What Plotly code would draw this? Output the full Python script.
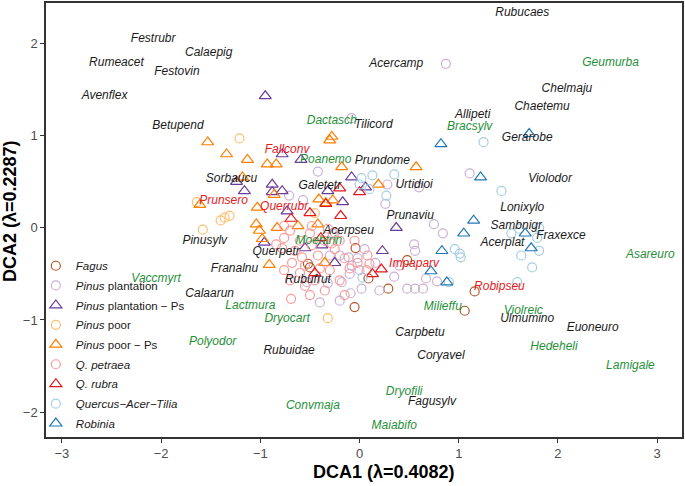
import plotly.graph_objects as go

# ---------------- data (DCA site scores) ----------------
fagus_x = [-0.04, 0.48, 0.09, 0.29, -0.05, 1.06, 1.16, -0.52, -0.50]
fagus_y = [-0.22, -0.35, -0.55, -0.66, -0.86, -0.90, -0.69, -0.39, -0.43]

pplant_x = [0.87, -0.08, -0.42, -0.71, -0.57, 1.11, 0.28, 0.60, 0.26, 0.75, 0.84, 0.55,
            0.56, 0.64, 0.48, 0.67, 0.78, -0.09, 0.02, -0.18, -0.10, -0.40, -0.53, -0.32,
            -0.20, -0.30, -0.11, -0.02, 0.05, 0.56, -0.27, 0.40, 0.35, 0.16, 0.20, 0.00,
            -0.20, -0.08]
pplant_y = [1.78, 1.19, 0.61, 0.35, 0.30, 0.59, 0.47, 0.44, 0.26, 0.04, -0.06, -0.18,
            -0.66, -0.66, -0.66, -0.55, -0.58, -0.71, -0.66, -0.59, -0.50, -0.81, -0.59, -0.60,
            -0.30, -0.30, -0.32, -0.33, -0.23, -0.25, -0.06, -0.41, -0.53, -0.38, -0.68, -0.46,
            -0.79, -0.41]

pplantps_x = [-0.95, -0.78, -0.59, -1.24, -1.16, -0.88, -0.88, -0.78, -0.73, -0.32,
              -0.17, -0.08, 0.06, 0.37, 0.23, -0.25, -0.96, -0.55, -0.38]
pplantps_y = [1.43, 0.80, 0.74, 0.50, 0.40, 0.47, 0.39, 0.40, 0.18, 0.40,
              0.28, 0.55, 0.44, 0.00, -0.25, -0.38, -0.16, -0.22, -0.19]

ppoor_x = [-1.21, -1.64, -1.36, -1.31, -1.40, -1.58, -0.32, -0.45]
ppoor_y = [0.97, 0.28, 0.11, 0.13, 0.08, -0.02, -0.98, 0.16]

ppoorps_x = [-1.53, -1.34, -1.13, -0.93, -0.84, -0.28, -0.30, -0.18, 0.57, 0.19,
             -1.18, -0.86, -1.61, -1.03, -1.04, -1.01, -0.98, -0.91, -0.41, -0.34,
             -0.27, -0.62, -0.83, -0.42, -0.35]
ppoorps_y = [0.93, 0.80, 0.74, 0.69, 0.69, 0.99, 0.95, 0.66, 0.66, 0.47,
             0.55, 0.36, 0.25, 0.22, 0.04, -0.03, -0.12, -0.40, 0.31, 0.27,
             0.30, 0.02, 0.00, 0.04, -0.38]

qpet_x = [-0.84, -0.78, -0.76, -0.68, -0.58, -0.50, -0.70, -0.60, -0.65, -0.48,
          -0.42, -0.35, -0.25, -0.25, -0.15, -0.28, -0.45, -0.55, -0.35, -0.20,
          -0.10, 0.07, 0.08, 0.10, -0.69, -0.76, -0.60, -0.40, -0.20, -0.05,
          -0.70, -0.50, -0.15, -0.02, -0.48, -0.32, -0.76, -0.55, -0.30]
qpet_y = [-0.18, -0.22, -0.11, -0.38, -0.32, -0.06, -0.03, -0.14, -0.25, -0.19,
          -0.30, -0.14, -0.05, -0.23, -0.33, -0.17, -0.57, -0.63, -0.68, -0.57,
          -0.44, -0.46, -0.30, -0.39, -0.77, -0.46, -0.49, -0.44, -0.14, -0.14,
          -0.57, -0.73, -0.73, -0.38, 0.02, -0.01, 0.02, -0.41, -0.46]

qrub_x = [-0.20, 0.00, -0.19, -0.34, -0.50, -0.69, -0.39, -0.45, 0.22, 0.13]
qrub_y = [0.43, 0.39, 0.13, 0.26, 0.16, 0.10, -0.11, -0.49, -0.45, -0.50]

qat_x = [1.25, 1.43, 0.02, 0.00, 0.13, 0.35, 0.10, 0.27, 0.96, 1.01, 1.02,
         0.90, 1.53, 1.63, 1.74, 1.81, 1.79, 1.59, 1.61, 1.81, 0.03]
qat_y = [0.93, 0.40, 0.54, 0.47, 0.57, 0.58, 0.42, 0.35, -0.23, -0.28, -0.32,
         -0.59, -0.06, -0.30, -0.43, -0.25, -0.11, -0.59, -0.01, 0.00, -0.54]

rob_x = [1.71, 0.82, 1.22, 1.15, 1.05, 1.67, 1.73, 0.83, 0.72, 0.88]
rob_y = [1.02, 0.91, 0.55, 0.08, -0.06, -0.06, -0.22, -0.25, -0.47, -0.59]

# species scores
sp_black = ["Rubucaes", "Festrubr", "Calaepig", "Rumeacet", "Festovin", "Avenflex",
            "Acercamp", "Chelmaju", "Chaetemu", "Allipeti", "Betupend", "Tilicord",
            "Gerarobe", "Prundome", "Sorbaucu", "Violodor", "Galetetr", "Urtidioi",
            "Lonixylo", "Prunaviu", "Sambnigr", "Fraxexce", "Pinusylv", "Acerpseu",
            "Acerplat", "Querpetr", "Franalnu", "Rubufrut", "Calaarun", "Ulmumino",
            "Euoneuro", "Carpbetu", "Rubuidae", "Coryavel", "Fagusylv"]
sp_black_x = [1.64, -2.08, -1.52, -2.45, -1.84, -2.57, 0.37, 2.09, 1.84, 1.14, -1.83, 0.14,
              1.69, 0.23, -1.29, 1.92, -0.40, 0.55, 1.64, 0.51, 1.58, 2.03, -1.56, -0.11,
              1.44, -0.84, -1.26, -0.52, -1.51, 1.69, 2.35, 0.61, -0.71, 0.82, 0.73]
sp_black_y = [2.33, 2.05, 1.90, 1.79, 1.69, 1.43, 1.78, 1.51, 1.31, 1.22, 1.11, 1.12,
              0.98, 0.73, 0.53, 0.53, 0.45, 0.46, 0.22, 0.13, 0.02, -0.09, -0.14, -0.03,
              -0.16, -0.26, -0.45, -0.57, -0.72, -0.99, -1.09, -1.14, -1.34, -1.39, -1.89]

sp_green = ["Geumurba", "Dactasch", "Bracsylv", "Poanemo", "Moehtrin", "Vaccmyrt",
            "Lactmura", "Dryocart", "Polyodor", "Asareuro", "Milieffu", "Violreic",
            "Hedeheli", "Lamigale", "Dryofili", "Convmaja", "Maiabifo"]
sp_green_x = [2.53, -0.28, 1.11, -0.34, -0.41, -2.05, -1.10, -0.73, -1.48, 2.93, 0.84, 1.65,
              1.96, 2.73, 0.45, -0.47, 0.35]
sp_green_y = [1.79, 1.16, 1.09, 0.74, -0.14, -0.55, -0.85, -0.99, -1.24, -0.30, -0.86, -0.90,
              -1.29, -1.50, -1.78, -1.93, -2.15]

sp_red = ["Fallconv", "Prunsero", "Querrubr", "Impaparv", "Robipseu"]
sp_red_x = [-0.73, -1.37, -0.76, 0.55, 1.41]
sp_red_y = [0.85, 0.29, 0.23, -0.39, -0.64]

x_ticks = [-3, -2, -1, 0, 1, 2, 3]
y_ticks = [-2, -1, 0, 1, 2]

# ---------------- styling ----------------
FONT = "Liberation Sans, Arial, sans-serif"
groups = [
    ("<i>Fagus</i>", fagus_x, fagus_y, "circle-open", "#b15928"),
    ("<i>Pinus</i> plantation", pplant_x, pplant_y, "circle-open", "#cab2d6"),
    ("<i>Pinus</i> plantation \u2212 Ps", pplantps_x, pplantps_y, "triangle-up-open", "#6a3d9a"),
    ("<i>Pinus</i> poor", ppoor_x, ppoor_y, "circle-open", "#fdbf6f"),
    ("<i>Pinus</i> poor \u2212 Ps", ppoorps_x, ppoorps_y, "triangle-up-open", "#ff7f00"),
    ("<i>Q. petraea</i>", qpet_x, qpet_y, "circle-open", "#fb9a99"),
    ("<i>Q. rubra</i>", qrub_x, qrub_y, "triangle-up-open", "#e31a1c"),
    ("<i>Quercus\u2212Acer\u2212Tilia</i>", qat_x, qat_y, "circle-open", "#a6cee3"),
    ("<i>Robinia</i>", rob_x, rob_y, "triangle-up-open", "#1f78b4"),
]

fig = go.Figure()
for i, (name, xs, ys, sym, col) in enumerate(groups):
    size = 9 if sym.startswith("circle") else 10.5
    fig.add_trace(go.Scatter(
        x=xs, y=ys, mode="markers", name=name, legendgroup="g%d" % i,
        marker=dict(symbol=sym, size=size, color=col, line=dict(width=1.2, color=col)),
        hoverinfo="skip"))

for names, xs, ys, col in [(sp_black, sp_black_x, sp_black_y, "#1a1a1a"),
                           (sp_green, sp_green_x, sp_green_y, "#1f9038"),
                           (sp_red, sp_red_x, sp_red_y, "#e31a1c")]:
    fig.add_trace(go.Scatter(
        x=xs, y=ys, mode="text", text=["<i>%s</i>" % n for n in names],
        textfont=dict(family=FONT, size=12, color=col), textposition="middle center",
        showlegend=False, hoverinfo="skip"))

axis_common = dict(showgrid=False, zeroline=False, showline=True, mirror=True,
                   linecolor="#333333", linewidth=1.5, ticks="outside", ticklen=4,
                   tickwidth=1, tickcolor="#333333",
                   tickfont=dict(family=FONT, size=13, color="#4d4d4d"))

fig.update_layout(
    width=685, height=486,
    margin=dict(l=46, r=2, t=1, b=49),
    paper_bgcolor="white", plot_bgcolor="white",
    font=dict(family=FONT),
    xaxis=dict(range=[-3.16, 3.25], tickvals=x_ticks, **axis_common),
    yaxis=dict(range=[-2.27, 2.44], tickvals=y_ticks, **axis_common),
    legend=dict(x=-0.016, y=0.428, xanchor="left", yanchor="top", bgcolor="rgba(0,0,0,0)",
                font=dict(family=FONT, size=11.5, color="#1a1a1a"), itemwidth=30,
                tracegroupgap=0.7),
    annotations=[
        dict(text="<b>DCA1 (\u03bb=0.4082)</b>", xref="paper", yref="paper",
             x=0.532, y=-0.080, xanchor="center", yanchor="middle", showarrow=False,
             font=dict(family=FONT, size=18, color="black")),
        dict(text="<b>DCA2 (\u03bb=0.2287)</b>", xref="paper", yref="paper",
             x=-0.0555, y=0.52, xanchor="center", yanchor="middle", showarrow=False,
             textangle=-90, font=dict(family=FONT, size=18, color="black")),
    ],
)

fig.write_html("out.html", post_script="document.body.style.margin='0px';",
               config={"displayModeBar": False})
